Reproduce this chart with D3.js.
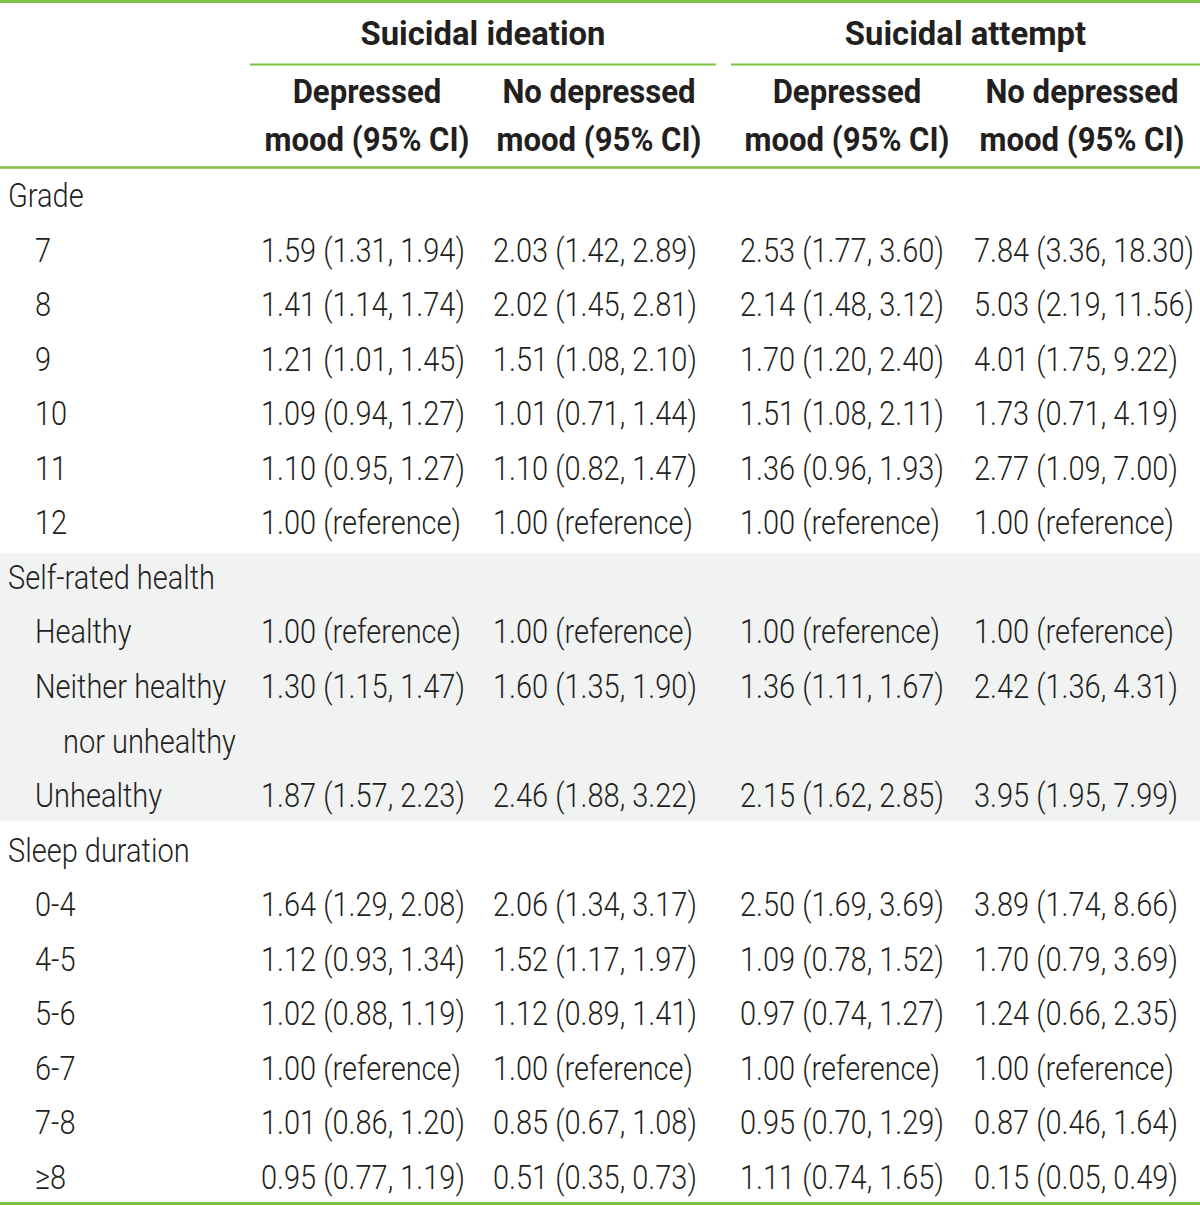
<!DOCTYPE html>
<html>
<head>
<meta charset="utf-8">
<script src="https://cdn.jsdelivr.net/npm/d3@7"></script>
<style>
  html, body { margin: 0; padding: 0; background: #fff; }
  svg { display: block; }
  text { font-family: Roboto, "Liberation Sans", sans-serif; fill: #231f20; }
</style>
</head>
<body>
<svg id="chart" width="1200" height="1206"></svg>
<script>
// ---------- data ----------
const groupHeaders = ["Suicidal ideation", "Suicidal attempt"];
const columnHeaders = [
  ["Depressed", "mood (95% CI)"],
  ["No depressed", "mood (95% CI)"],
  ["Depressed", "mood (95% CI)"],
  ["No depressed", "mood (95% CI)"]
];
const rowLabels = [
  "Grade", "7", "8", "9", "10", "11", "12",
  "Self-rated health", "Healthy", "Neither healthy", "nor unhealthy", "Unhealthy",
  "Sleep duration", "0-4", "4-5", "5-6", "6-7", "7-8", "≥8"
];
const rowIndent = [0,1,1,1,1,1,1, 0,1,1,2,1, 0,1,1,1,1,1,1];
const shadedRows = [7, 8, 9, 10, 11];

const ideationDepressed = [
  "", "1.59 (1.31, 1.94)", "1.41 (1.14, 1.74)", "1.21 (1.01, 1.45)", "1.09 (0.94, 1.27)", "1.10 (0.95, 1.27)", "1.00 (reference)",
  "", "1.00 (reference)", "1.30 (1.15, 1.47)", "", "1.87 (1.57, 2.23)",
  "", "1.64 (1.29, 2.08)", "1.12 (0.93, 1.34)", "1.02 (0.88, 1.19)", "1.00 (reference)", "1.01 (0.86, 1.20)", "0.95 (0.77, 1.19)"
];
const ideationNoDepressed = [
  "", "2.03 (1.42, 2.89)", "2.02 (1.45, 2.81)", "1.51 (1.08, 2.10)", "1.01 (0.71, 1.44)", "1.10 (0.82, 1.47)", "1.00 (reference)",
  "", "1.00 (reference)", "1.60 (1.35, 1.90)", "", "2.46 (1.88, 3.22)",
  "", "2.06 (1.34, 3.17)", "1.52 (1.17, 1.97)", "1.12 (0.89, 1.41)", "1.00 (reference)", "0.85 (0.67, 1.08)", "0.51 (0.35, 0.73)"
];
const attemptDepressed = [
  "", "2.53 (1.77, 3.60)", "2.14 (1.48, 3.12)", "1.70 (1.20, 2.40)", "1.51 (1.08, 2.11)", "1.36 (0.96, 1.93)", "1.00 (reference)",
  "", "1.00 (reference)", "1.36 (1.11, 1.67)", "", "2.15 (1.62, 2.85)",
  "", "2.50 (1.69, 3.69)", "1.09 (0.78, 1.52)", "0.97 (0.74, 1.27)", "1.00 (reference)", "0.95 (0.70, 1.29)", "1.11 (0.74, 1.65)"
];
const attemptNoDepressed = [
  "", "7.84 (3.36, 18.30)", "5.03 (2.19, 11.56)", "4.01 (1.75, 9.22)", "1.73 (0.71, 4.19)", "2.77 (1.09, 7.00)", "1.00 (reference)",
  "", "1.00 (reference)", "2.42 (1.36, 4.31)", "", "3.95 (1.95, 7.99)",
  "", "3.89 (1.74, 8.66)", "1.70 (0.79, 3.69)", "1.24 (0.66, 2.35)", "1.00 (reference)", "0.87 (0.46, 1.64)", "0.15 (0.05, 0.49)"
];
const columns = [ideationDepressed, ideationNoDepressed, attemptDepressed, attemptNoDepressed];

// ---------- layout ----------
const W = 1200, H = 1206;
const green = "#7dc242";
const shade = "#f1f2f2";
const svg = d3.select("#chart");

const regSize = 34, boldSize = 33;
const regWeight = 300, boldWeight = 700;

function measure(str, weight, size) {
  const t = svg.append("text").attr("font-size", size).attr("font-weight", weight).text(str);
  const w = t.node().getComputedTextLength();
  t.remove();
  return w;
}
const sxReg = 204 / measure("1.59 (1.31, 1.94)", regWeight, regSize);
const sxGroup = 245 / measure("Suicidal ideation", boldWeight, boldSize);
const sxBold = (202 / measure("mood (95% CI)", boldWeight, boldSize) +
                151 / measure("Depressed", boldWeight, boldSize)) / 2;

const y = d3.scaleLinear().domain([0, rowLabels.length - 1]).range([207, 1189]);
const rowStep = y(1) - y(0);
const colX = d3.scaleOrdinal().domain([0, 1, 2, 3]).range([261, 493, 740, 974]);
const colCenter = d3.scaleOrdinal().domain([0, 1, 2, 3]).range([367, 599, 847, 1082]);
const groupSpan = [[250, 716], [731, 1200]];
const indentX = d3.scaleOrdinal().domain([0, 1, 2]).range([8, 35, 63]);

// shaded band
const firstShade = d3.min(shadedRows), lastShade = d3.max(shadedRows);
const bandTop = y(firstShade) - rowStep * 0.665;
const bandBottom = y(lastShade) + rowStep * 0.26;
svg.append("rect")
  .attr("x", 0).attr("width", W)
  .attr("y", bandTop)
  .attr("height", bandBottom - bandTop)
  .attr("fill", shade);

function txt(g, str, x, yy, kind, anchor) {
  const bold = kind !== "reg";
  const sx = kind === "group" ? sxGroup : (bold ? sxBold : sxReg);
  g.append("text")
    .attr("transform", `translate(${x},${yy}) scale(${sx},1)`)
    .attr("font-size", bold ? boldSize : regSize)
    .attr("font-weight", bold ? boldWeight : regWeight)
    .attr("text-anchor", anchor || "start")
    .text(str);
}

const gText = svg.append("g");

groupHeaders.forEach((h, i) => {
  const [a, b] = groupSpan[i];
  txt(gText, h, (a + b) / 2, 45, "group", "middle");
  svg.append("line").attr("x1", a).attr("x2", b).attr("y1", 64.5).attr("y2", 64.5)
    .attr("stroke", green).attr("stroke-width", 2);
});

columnHeaders.forEach((lines, i) => {
  txt(gText, lines[0], colCenter(i), 103, "bold", "middle");
  txt(gText, lines[1], colCenter(i), 151, "bold", "middle");
});

rowLabels.forEach((lab, r) => {
  txt(gText, lab, indentX(rowIndent[r]), y(r), "reg", "start");
  columns.forEach((col, c) => {
    if (col[r]) txt(gText, col[r], colX(c), y(r), "reg", "start");
  });
});

[[1.5, 3], [167.5, 2.5], [1203.5, 3]].forEach(([yy, w]) => {
  svg.append("line").attr("x1", 0).attr("x2", W).attr("y1", yy).attr("y2", yy)
    .attr("stroke", green).attr("stroke-width", w);
});
</script>
</body>
</html>
